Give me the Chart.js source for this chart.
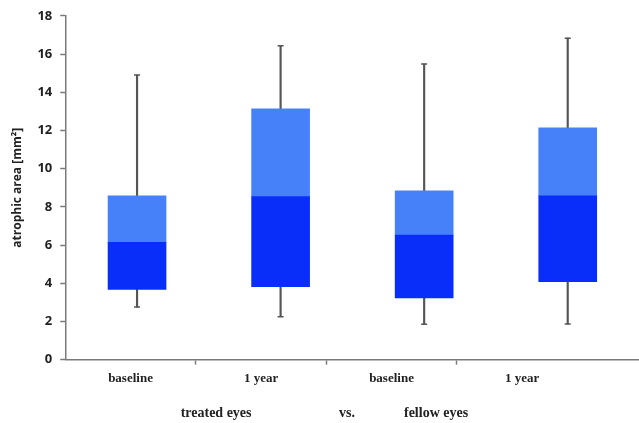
<!DOCTYPE html>
<html>
<head>
<meta charset="utf-8">
<script src="https://cdn.jsdelivr.net/npm/chart.js@4/dist/chart.umd.min.js"></script>
<style>
  html, body { margin: 0; padding: 0; background: #fff; overflow: hidden; }
</style>
</head>
<body>
<!-- a few px wider than the window so the x axis runs to the right edge -->
<canvas id="boxplot" width="645" height="423"></canvas>
<script>
// box groups (hidden axis) and the tick labels under the x axis
const boxGroups = ["treated baseline", "treated 1 year", "fellow baseline", "fellow 1 year"];
const tickLabels = ["baseline", "1 year", "baseline", "1 year"];

// values (mm²)
const minVals = [2.75, 2.25, 1.85, 1.87];
const q1Vals = [3.68, 3.82, 3.23, 4.08];
const medianVals = [6.14, 8.53, 6.52, 8.57];
const q3Vals = [8.58, 13.13, 8.84, 12.14];
const maxVals = [14.9, 16.43, 15.47, 16.83];

const yTicks = [0, 2, 4, 6, 8, 10, 12, 14, 16, 18];

const darkBlue = "#0a2ef9";
const lightBlue = "#4781fa";
const whiskerGrey = "#555555";
const axisGrey = "#7a7a7a";

const labelFont = { family: "'Liberation Serif', serif", size: 13, weight: "bold" };

// x title: spread out like the original
const xTitle =
  "treated eyes" + " ".repeat(25) + "vs." + " ".repeat(14) + "fellow eyes" + " ".repeat(16);

const datasets = [
  {
    label: "lower box",
    data: q1Vals.map((v, i) => [v, medianVals[i]]),
    backgroundColor: darkBlue,
    barThickness: 58,
    grouped: false,
    order: 1,
  },
  {
    label: "upper box",
    data: medianVals.map((v, i) => [v, q3Vals[i]]),
    backgroundColor: lightBlue,
    barThickness: 58,
    grouped: false,
    order: 1,
  },
  {
    label: "whisker",
    data: minVals.map((v, i) => [v, maxVals[i]]),
    backgroundColor: whiskerGrey,
    barThickness: 1.5,
    grouped: false,
    order: 3,
  },
  {
    type: "line",
    label: "max cap",
    data: maxVals,
    showLine: false,
    pointStyle: "line",
    pointRadius: 3,
    pointBorderWidth: 1.5,
    borderColor: whiskerGrey,
    order: 2,
  },
  {
    type: "line",
    label: "min cap",
    data: minVals,
    showLine: false,
    pointStyle: "line",
    pointRadius: 3,
    pointBorderWidth: 1.5,
    borderColor: whiskerGrey,
    order: 2,
  },
];

const config = {
  type: "bar",
  data: { labels: boxGroups, datasets },
  options: {
    responsive: false,
    animation: false,
    layout: { padding: { top: 5, right: 0, left: 10, bottom: 1 } },
    plugins: {
      legend: { display: false },
      tooltip: { enabled: false },
    },
    scales: {
      x: {
        display: false,
        offset: true,
      },
      xt: {
        type: "linear",
        axis: "x",
        position: "bottom",
        min: 0,
        max: 4.4,
        offset: false,
        afterBuildTicks: (axis) => {
          axis.ticks = [0.5, 1, 1.5, 2, 2.5, 3, 3.5].map((v) => ({ value: v }));
        },
        border: { color: axisGrey, width: 1.5 },
        grid: {
          offset: false,
          drawOnChartArea: false,
          tickLength: 5,
          tickWidth: 1.5,
          tickColor: (ctx) =>
            ctx.tick && Number.isInteger(ctx.tick.value) ? axisGrey : "rgba(0,0,0,0)",
        },
        ticks: {
          autoSkip: false,
          maxRotation: 0,
          padding: 6,
          color: "#222",
          font: labelFont,
          callback: (value) => (Number.isInteger(value) ? "" : tickLabels[Math.floor(value)]),
        },
        title: {
          display: true,
          text: xTitle,
          color: "#222",
          font: { family: "'Liberation Serif', serif", size: 14, weight: "bold" },
          padding: { top: 13, bottom: 0 },
        },
      },
      y: {
        min: 0,
        max: 18,
        afterBuildTicks: (axis) => {
          axis.ticks = yTicks.map((v) => ({ value: v }));
        },
        border: { color: axisGrey, width: 1.5 },
        grid: {
          drawOnChartArea: false,
          tickLength: 5,
          tickWidth: 1.5,
          tickColor: axisGrey,
        },
        ticks: {
          padding: 8,
          color: "#222",
          font: { family: "'Open Sans', sans-serif", size: 13, weight: "bold" },
        },
        title: {
          display: true,
          text: "atrophic area [mm²]",
          color: "#222",
          font: { family: "'Open Sans', sans-serif", size: 12, weight: "bold" },
          padding: { top: 0, bottom: 5 },
        },
      },
    },
  },
};

const canvas = document.getElementById("boxplot");
const boxChart = new Chart(canvas, config);
</script>
</body>
</html>
